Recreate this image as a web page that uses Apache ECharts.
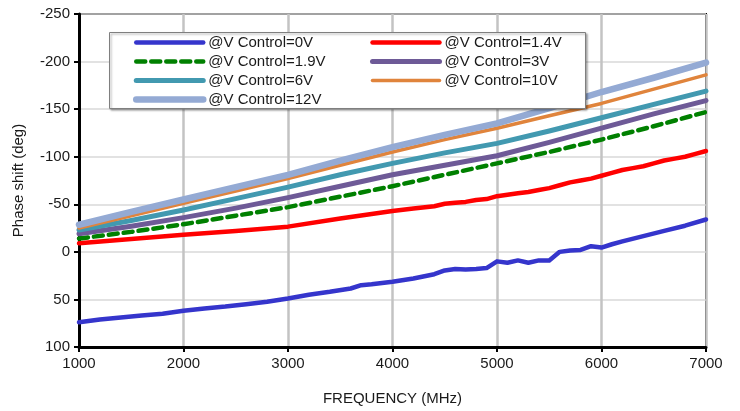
<!DOCTYPE html>
<html>
<head>
<meta charset="utf-8">
<script src="https://cdn.jsdelivr.net/npm/echarts@6/dist/echarts.min.js"></script>
<style>html,body{margin:0;padding:0;background:#fff;}#c{width:740px;height:411px;}</style>
</head>
<body>
<div id="c"></div>
<script>
// ---- data ----
const xTicks = [1000, 2000, 3000, 4000, 5000, 6000, 7000];
const yTicks = [-250, -200, -150, -100, -50, 0, 50, 100];

const freq0V = [1000,1200,1400,1600,1800,2000,2200,2400,2600,2800,3000,3200,3400,3600,3700,3800,4000,4200,4400,4500,4600,4700,4800,4900,5000,5100,5200,5300,5400,5500,5600,5700,5800,5900,6000,6100,6200,6400,6600,6800,7000];
const val0V  = [74,71,69,67,65,62,59.5,57.5,55,52.5,49,45,42,38.5,35,34,31.5,28,23.5,19.5,18,18.5,18,17,10,11.5,9,11.5,9,9,0,-1.5,-2,-6,-4.5,-8,-11,-16.5,-22,-27.5,-34];

const freq1p4V = [1000,1500,2000,2500,3000,3500,4000,4200,4400,4500,4600,4700,4800,4900,5000,5100,5200,5300,5400,5500,5600,5700,5800,5900,6000,6100,6200,6300,6400,6500,6600,6700,6800,6900,7000];
const val1p4V  = [-9,-13.5,-18,-22,-26.5,-35,-43,-45.5,-48,-50.5,-51.5,-52.5,-54.5,-55.5,-58.5,-60,-61.5,-63,-65,-67,-70,-73,-75,-77,-80,-83,-86,-88,-90,-93,-96,-98,-100,-103,-106];

const freqStep = [1000,1500,2000,2500,3000,3500,4000,4500,5000,5500,6000,6500,7000];
const val1p9V = [-14,-21,-29,-38,-47,-58,-69,-81,-93,-105,-118,-132,-147];
const val3V   = [-19,-27,-36,-46,-57,-69,-81,-91,-101,-115,-130,-145,-159];
const val6V   = [-23,-33,-44,-56,-68,-81,-93,-104,-114,-127,-141,-155,-169];
const val10V  = [-25,-38,-51,-64,-77,-91,-105,-118,-130,-143,-156,-171,-186];
const val12V  = [-28.5,-42,-55,-68,-81,-96,-110,-123,-135,-151,-168,-183,-199];

const names = ['@V Control=0V','@V Control=1.4V','@V Control=1.9V','@V Control=3V','@V Control=6V','@V Control=10V','@V Control=12V'];

// ---- chart ----
const pair = (xs, ys) => xs.map((x, i) => [x, ys[i]]);
const FONT = "'Liberation Sans', Arial, sans-serif";
const TXT = '#1a1a1a';

function mk(name, data, color, width, type) {
  return {
    name: name, type: 'line', data: data, symbol: 'none', showSymbol: false, smooth: false,
    lineStyle: { color: color, width: width, type: type || 'solid', cap: 'round', join: 'round' },
    itemStyle: { color: color },
    emphasis: { disabled: true },
    animation: false
  };
}

const chart = echarts.init(document.getElementById('c'), null, { renderer: 'canvas' });
const legendCommon = {
  orient: 'vertical', itemWidth: 67, itemHeight: 14, itemGap: 2,
  textStyle: { fontFamily: FONT, fontSize: 15, color: TXT, lineHeight: 17 },
  itemStyle: { opacity: 0 },
  lineStyle: { width: 'inherit', type: 'inherit', cap: 'round', opacity: 1 },
  selectedMode: false, z: 10
};
chart.setOption({
  animation: false,
  backgroundColor: '#fff',
  grid: { left: 79, right: 34, top: 14, bottom: 60, show: true, borderColor: '#000', borderWidth: 2, backgroundColor: 'transparent' },
  xAxis: {
    type: 'value', min: xTicks[0], max: xTicks[xTicks.length - 1], interval: 1000,
    name: 'FREQUENCY (MHz)', nameLocation: 'middle', nameGap: 44,
    nameTextStyle: { fontFamily: FONT, fontSize: 15, color: TXT },
    axisLine: { show: true, onZero: false, lineStyle: { color: '#000', width: 3 } },
    axisTick: { show: true, length: 5, lineStyle: { color: '#000', width: 2 } },
    axisLabel: { fontFamily: FONT, fontSize: 15, color: TXT, margin: 9, formatter: v => String(v) },
    splitLine: { show: true, lineStyle: { color: '#c3c3c3', width: 2.5 } }
  },
  yAxis: {
    type: 'value', inverse: true, min: yTicks[0], max: yTicks[yTicks.length - 1], interval: 50,
    name: 'Phase shift (deg)', nameLocation: 'middle', nameGap: 53, nameRotate: 90,
    nameTextStyle: { fontFamily: FONT, fontSize: 15, color: TXT },
    axisLine: { show: true, onZero: false, lineStyle: { color: '#000', width: 3 } },
    axisTick: { show: true, length: 5, lineStyle: { color: '#000', width: 2 } },
    axisLabel: { fontFamily: FONT, fontSize: 15, color: TXT, margin: 9, formatter: v => String(v) },
    splitLine: { show: true, lineStyle: { color: '#d9d9d9', width: 1.5 } }
  },
  legend: [
    Object.assign({}, legendCommon, { left: 128, top: 29, data: [names[0], names[2], names[4], names[6]] }),
    Object.assign({}, legendCommon, { left: 365, top: 29, data: [names[1], names[3], names[5]] })
  ],
  graphic: [{
    type: 'rect', z: 5, silent: true,
    shape: { x: 109.5, y: 32.5, width: 476, height: 76 },
    style: { fill: '#fff', stroke: '#7f7f7f', lineWidth: 1, shadowBlur: 2, shadowOffsetX: 1.5, shadowOffsetY: 1.5, shadowColor: 'rgba(0,0,0,0.35)' }
  }],
  series: [
    mk(names[0], pair(freq0V, val0V), '#3535cc', 4.5),
    mk(names[1], pair(freq1p4V, val1p4V), '#ff0000', 4.5),
    mk(names[2], pair(freqStep, val1p9V), '#008000', 4.5, [9, 6]),
    mk(names[3], pair(freqStep, val3V), '#6e5a97', 5),
    mk(names[4], pair(freqStep, val6V), '#4299b0', 5),
    mk(names[5], pair(freqStep, val10V), '#e0843c', 3.5),
    mk(names[6], pair(freqStep, val12V), '#94aad4', 6.5)
  ]
});
</script>
</body>
</html>
